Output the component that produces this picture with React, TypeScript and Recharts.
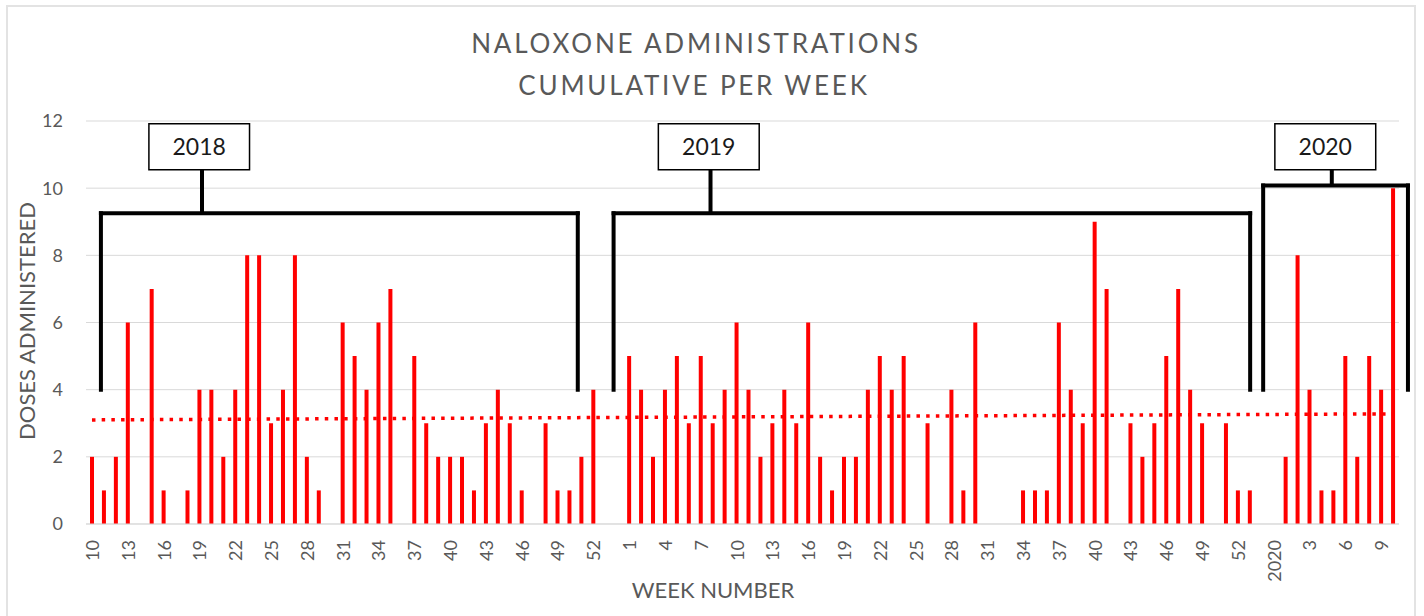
import React from 'react';
import {
  ComposedChart,
  Bar,
  Line,
  XAxis,
  YAxis,
  CartesianGrid,
  ReferenceLine,
  ReferenceArea,
} from 'recharts';

// ---- Data ----
const weeks2018 = ['10','11','12','13','14','15','16','17','18','19','20','21','22','23','24','25','26','27','28','29','30','31','32','33','34','35','36','37','38','39','40','41','42','43','44','45','46','47','48','49','50','51','52','53',''];
const doses2018 = [2,1,2,6,0,7,1,0,1,4,4,2,4,8,8,3,4,8,2,1,0,6,5,4,6,7,0,5,3,2,2,2,1,3,4,3,1,0,3,1,1,2,4,0,0];

const weeks2019 = ['1','2','3','4','5','6','7','8','9','10','11','12','13','14','15','16','17','18','19','20','21','22','23','24','25','26','27','28','29','30','31','32','33','34','35','36','37','38','39','40','41','42','43','44','45','46','47','48','49','50','51','52','53',''];
const doses2019 = [5,4,2,4,5,3,5,3,4,6,4,2,3,4,3,6,2,1,2,2,4,5,4,5,0,3,0,4,1,6,0,0,0,1,1,1,6,4,3,9,7,0,3,2,3,5,7,4,3,0,3,1,1,0];

const weeks2020 = ['2020','1','2','3','4','5','6','7','8','9','10'];
const doses2020 = [0,2,8,4,1,1,5,2,5,4,10];

const trendStart = 3.1;
const trendEnd = 3.28;

const yTicks = [0, 2, 4, 6, 8, 10, 12];

const weekLabels = [...weeks2018, ...weeks2019, ...weeks2020];
const doses = [...doses2018, ...doses2019, ...doses2020];

const data = weekLabels.map((w, i) => ({
  key: String(i),
  doses: doses[i] === 0 ? null : doses[i],
  trend: i === 0 ? trendStart : i === weekLabels.length - 1 ? trendEnd : null,
}));

// Year bracket annotations (in category-index / value units)
const brackets = [
  { year: '2018', left: 0.75, right: 40.7, top: 9.25, bottom: 4, stem: 9.22, boxL: 4.77, boxR: 13.2 },
  { year: '2019', left: 43.7, right: 97.03, top: 9.25, bottom: 4, stem: 51.82, boxL: 47.45, boxR: 55.9 },
  { year: '2020', left: 98.12, right: 110.25, top: 10.08, bottom: 4, stem: 103.87, boxL: 99.1, boxR: 107.55 },
];
const boxTop = 11.92;
const boxBottom = 10.55;

const FONT = 'Lato, "Open Sans", sans-serif';
const GREY = '#595959';

const N = weekLabels.length;
// category index -> units on the hidden linear axis whose domain is [0, N-1]
const hx = (idx: number) => ((idx + 0.5) * (N - 1)) / N;

const XTick = (props: any) => {
  const { x, y, payload } = props;
  const i = Number(payload.value);
  return (
    <text
      x={x}
      y={y}
      transform={`rotate(-90, ${x}, ${y})`}
      textAnchor="end"
      dominantBaseline="central"
      fontFamily={FONT}
      fontSize={18}
      fill={GREY}
    >
      {weekLabels[i]}
    </text>
  );
};

export default function App() {
  return (
    <div style={{ position: 'absolute', left: 0, top: 0, width: 1424, height: 616, background: '#fff', overflow: 'hidden' }}>
      <div
        style={{
          position: 'absolute',
          left: 6,
          top: 5,
          width: 1406,
          height: 640,
          borderLeft: '2px solid #e3e3e3',
          borderTop: '2px solid #e3e3e3',
          borderRight: '2px solid #e3e3e3',
        }}
      />
      <ComposedChart
        width={1424}
        height={616}
        data={data}
        margin={{ top: 121, right: 25, bottom: 0, left: 0 }}
        barCategoryGap={0}
      >
        <CartesianGrid vertical={false} stroke="#d9d9d9" strokeWidth={1} />
        <XAxis
          dataKey="key"
          type="category"
          interval={2}
          height={92}
          tickLine={false}
          tickMargin={10}
          axisLine={{ stroke: '#d9d9d9' }}
          tick={<XTick />}
        />
        <XAxis
          xAxisId="n"
          type="number"
          scale="linear"
          domain={[0, N - 1]}
          hide
          allowDataOverflow
        />
        <YAxis
          domain={[0, 12]}
          ticks={yTicks}
          width={86}
          tickLine={false}
          axisLine={false}
          tickMargin={17}
          tick={{ fontFamily: FONT, fontSize: 18, fill: GREY }}
        />
        <Bar dataKey="doses" fill="#ff0000" barSize={4} isAnimationActive={false} />
        <Line
          dataKey="trend"
          connectNulls
          dot={false}
          stroke="#ff0000"
          strokeWidth={3.5}
          strokeDasharray="3.5 6.2"
          isAnimationActive={false}
        />
        {brackets.flatMap((b) => [
          <ReferenceLine
            key={b.year + 'l'}
            xAxisId="n"
            ifOverflow="visible"
            segment={[{ x: hx(b.left), y: b.bottom }, { x: hx(b.left), y: b.top }]}
            stroke="#000"
            strokeWidth={4}
            strokeLinecap="square"
          />,
          <ReferenceLine
            key={b.year + 't'}
            xAxisId="n"
            ifOverflow="visible"
            segment={[{ x: hx(b.left), y: b.top }, { x: hx(b.right), y: b.top }]}
            stroke="#000"
            strokeWidth={4}
            strokeLinecap="square"
          />,
          <ReferenceLine
            key={b.year + 'r'}
            xAxisId="n"
            ifOverflow="visible"
            segment={[{ x: hx(b.right), y: b.top }, { x: hx(b.right), y: b.bottom }]}
            stroke="#000"
            strokeWidth={4}
            strokeLinecap="square"
          />,
          <ReferenceLine
            key={b.year + 's'}
            xAxisId="n"
            ifOverflow="visible"
            segment={[{ x: hx(b.stem), y: b.top }, { x: hx(b.stem), y: boxBottom }]}
            stroke="#000"
            strokeWidth={4}
          />,
          <ReferenceArea
            key={b.year + 'b'}
            xAxisId="n"
            ifOverflow="visible"
            x1={hx(b.boxL)}
            x2={hx(b.boxR)}
            y1={boxBottom}
            y2={boxTop}
            fill="#fff"
            fillOpacity={1}
            stroke="#000"
            strokeWidth={1.5}
            label={{ value: b.year, position: 'center', fontFamily: FONT, fontSize: 23, fill: '#1a1a1a' }}
          />,
        ])}
      </ComposedChart>
      <svg
        width={1424}
        height={616}
        style={{ position: 'absolute', left: 0, top: 0, pointerEvents: 'none' }}
      >
        <text x={696} y={53} textAnchor="middle" fontFamily={FONT} fontSize={26} letterSpacing={2.8} fill={GREY}>
          NALOXONE ADMINISTRATIONS
        </text>
        <text x={694} y={95} textAnchor="middle" fontFamily={FONT} fontSize={26} letterSpacing={2.8} fill={GREY}>
          CUMULATIVE PER WEEK
        </text>
        <text
          x={35}
          y={321}
          transform="rotate(-90, 35, 321)"
          textAnchor="middle"
          fontFamily={FONT}
          fontSize={22}
          fill={GREY}
        >
          DOSES ADMINISTERED
        </text>
        <text x={713} y={598} textAnchor="middle" fontFamily={FONT} fontSize={22} fill={GREY}>
          WEEK NUMBER
        </text>
      </svg>
    </div>
  );
}
